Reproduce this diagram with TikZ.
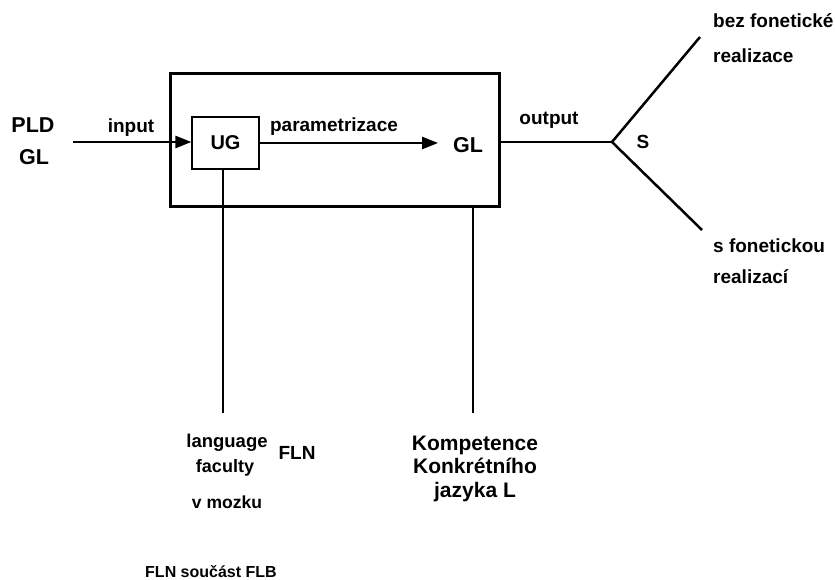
\documentclass[tikz,border=0pt]{standalone}
\usepackage{fontspec}
\setmainfont{Liberation Sans}
\usetikzlibrary{arrows.meta}
\begin{document}
\begin{tikzpicture}[x=1pt,y=-1pt,
  lbl/.style={font=\fontsize{19}{23}\bfseries, inner sep=0pt, anchor=base},
  lblw/.style={lbl, anchor=base west},
  big/.style={font=\fontsize{21.5}{26}\bfseries, inner sep=0pt, anchor=base},
  komp/.style={font=\fontsize{21}{26}\bfseries, inner sep=0pt, anchor=base},
  ln/.style={line width=2.5pt},
  arr/.style={ln, -{Triangle[length=16pt,width=12pt]}}]
\useasboundingbox (0,0) rectangle (835,580);
% main box
\node[draw, line width=3pt, minimum width=329pt, minimum height=133pt, inner sep=0pt] (box) at (334.5,140.5) {};
\node[draw, line width=1.2pt, minimum width=67pt, minimum height=52pt, inner sep=0pt,
      font=\fontsize{20}{24}\bfseries] (ug) at (225.5,143) {UG};
\node[big, outer xsep=15pt] (gl) at (468,153) {GL};
% left inputs
\node[big] (pld) at (33,133) {PLD};
\node[big] (gll) at (34,165) {GL};
\coordinate (inA) at (73,142);
\draw[arr] (inA) -- (inA -| ug.west);
\node[lbl] (input) at (131,133) {input};
\draw[arr] (ug.east) -- (ug.east -| gl.west);
\node[lbl] (param) at (334,132) {parametrizace};
% output and fork
\coordinate (fork) at (612,142);
\coordinate (up) at (700,37);
\coordinate (dn) at (702,230);
\draw[ln] (box.east |- fork) -- (fork);
\draw[ln] (up) -- (fork) -- (dn);
\node[lbl] (output) at (549,125) {output};
\node[lbl] (s) at (643,149) {S};
\node[lblw] (bez1) at (713,28) {bez fonetické};
\node[lblw] (bez2) at (713,63) {realizace};
\node[lblw] (sf1) at (713,252) {s fonetickou};
\node[lblw] (sf2) at (713,283) {realizací};
% vertical lines
\coordinate (ugend) at (223,413);
\coordinate (glend) at (473,413);
\draw[ln] (ugend |- ug.south) -- (ugend);
\draw[ln] (glend |- box.south) -- (glend);
% bottom labels
\node[lbl, font=\fontsize{18.5}{22}\bfseries] (lang) at (227,447) {language};
\node[lbl, font=\fontsize{18}{22}\bfseries] (fac) at (225,472) {faculty};
\node[lbl] (fln) at (297,459) {FLN};
\node[lbl, font=\fontsize{17.5}{22}\bfseries] (vmoz) at (227,508) {v mozku};
\node[komp] (komp1) at (475,450) {Kompetence};
\node[komp] (komp2) at (475,473) {Konkrétního};
\node[komp] (komp3) at (475,497) {jazyka L};
\node[font=\fontsize{16}{20}\bfseries, inner sep=0pt, anchor=base west] (flb) at (145,577) {FLN součást FLB};
\end{tikzpicture}
\end{document}
